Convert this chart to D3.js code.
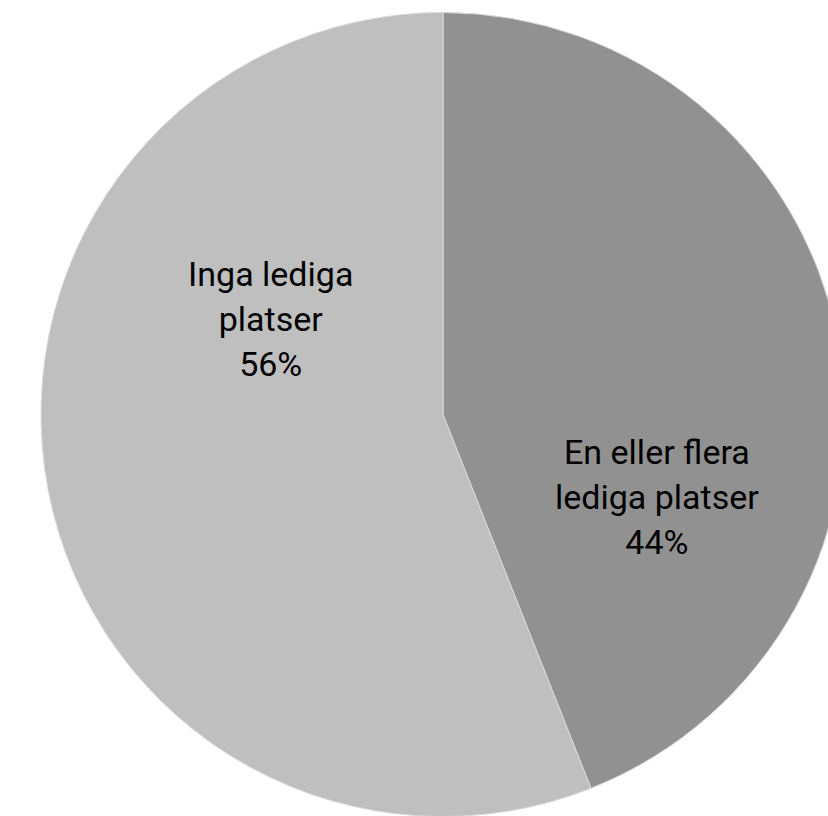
<!DOCTYPE html>
<html>
<head>
<meta charset="utf-8">
<script src="https://cdn.jsdelivr.net/npm/d3@7"></script>
<style>
  body { margin: 0; background: #fff; }
  svg { display: block; }
  text { font-family: Roboto, "Noto Sans", sans-serif; font-size: 34px; fill: #000; }
</style>
</head>
<body>
<svg width="828" height="816"></svg>
<script>
// data
var categories = ["En eller flera lediga platser", "Inga lediga platser"];
var labelLines = [["En eller flera", "lediga platser"], ["Inga lediga", "platser"]];
var values = [44, 56];
var colors = ["#919191", "#bfbfbf"];

// label placement (angle in degrees clockwise from top, fraction of radius)
var labelAngle = [111, 299];
var labelRadius = [0.57, 0.49];

var svg = d3.select("svg"),
    cx = 443, cy = 414.5, radius = 402,
    lineHeight = 45;

var g = svg.append("g")
    .attr("transform", "translate(" + cx + "," + cy + ")");

var pie = d3.pie().sort(null).value(function(d) { return d; });
var arc = d3.arc().innerRadius(0).outerRadius(radius);
var arcs = pie(values);

g.selectAll("path.slice")
    .data(arcs)
    .enter().append("path")
    .attr("class", "slice")
    .attr("d", arc)
    .attr("fill", function(d, i) { return colors[i]; })
    .attr("stroke", "#d9d9d9")
    .attr("stroke-width", 1);

var label = g.selectAll("text.label")
    .data(arcs)
    .enter().append("text")
    .attr("class", "label")
    .attr("text-anchor", "middle")
    .attr("transform", function(d, i) {
        var p = d3.pointRadial(labelAngle[i] * Math.PI / 180, radius * labelRadius[i]);
        return "translate(" + p[0] + "," + p[1] + ")";
    });

label.each(function(d, i) {
    var lines = labelLines[i].concat([values[i] + "%"]);
    var t = d3.select(this);
    var y0 = -((lines.length - 1) * lineHeight) / 2 + 12;
    lines.forEach(function(l, j) {
        t.append("tspan").attr("x", 0).attr("y", y0 + j * lineHeight).text(l);
    });
});
</script>
</body>
</html>
